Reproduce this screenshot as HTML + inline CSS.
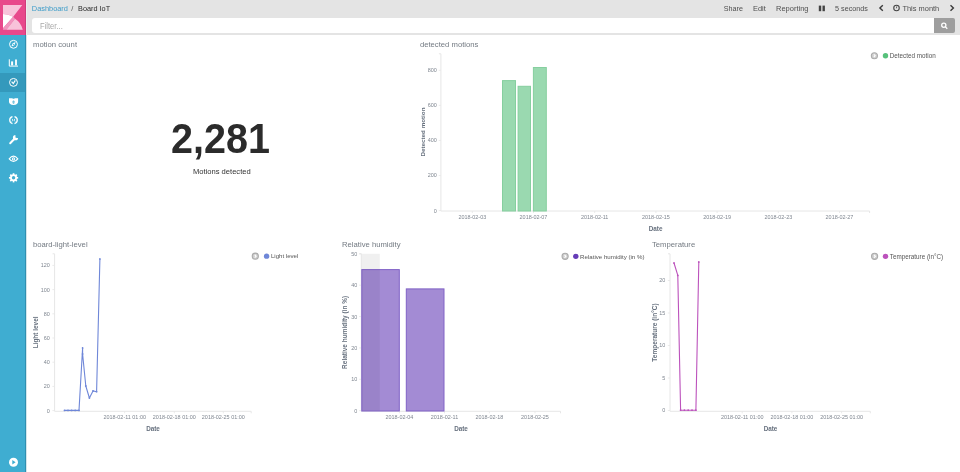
<!DOCTYPE html>
<html><head><meta charset="utf-8">
<style>
html,body{margin:0;padding:0;}
body{width:960px;height:472px;overflow:hidden;position:relative;background:#fff;font-family:"Liberation Sans",Arial,sans-serif;}
.abs{position:absolute;}
#nav{left:0;top:0;width:25px;height:472px;background:#3fadd1;}
#navedge{left:25px;top:0;width:1px;height:472px;background:#2f8fb0;}
#logo{left:0;top:0;width:25px;height:35px;background:#e8488b;border-right:1px solid #cf3d7b;}
#col26a{left:26px;top:0;width:1px;height:35px;background:#eeeeee;}
#col26b{left:26px;top:35px;width:1px;height:437px;background:#d3e6ec;}
#active{left:0;top:73px;width:25px;height:18.5px;background:#3499bc;}
#hdr{left:26px;top:0;width:934px;height:35px;background:#e4e4e4;}
.t{position:absolute;will-change:transform;white-space:nowrap;line-height:1;}
#filter{left:31.5px;top:18px;width:902px;height:15px;background:#fff;border-radius:3px 0 0 3px;}
#sbtn{left:933.5px;top:18px;width:21px;height:15px;background:#9e9e9e;border-radius:0 2px 2px 0;}
svg text{font-family:"Liberation Sans",Arial,sans-serif;}
</style></head><body>
<div id="nav" class="abs"></div>
<div id="active" class="abs"></div>
<div id="navedge" class="abs"></div>
<div id="logo" class="abs"></div>
<div id="hdr" class="abs"></div>
<div id="col26a" class="abs"></div>
<div id="col26b" class="abs"></div>
<div id="filter" class="abs"></div>
<div id="sbtn" class="abs"></div>

<svg class="abs" style="left:0;top:0;will-change:transform" width="960" height="472" viewBox="0 0 960 472">
  <!-- logo -->
  <path d="M3,5 H22.3 L13.2,16.7 Q8.6,14 3,14 Z" fill="#f8c3da"/>
  <path d="M3,14 Q8.6,14 13.2,16.7 L3,28.2 Z" fill="#ffffff"/>
  <path d="M13.2,16.7 L15,18.7 L6.4,29.8 L3,29.8 L3,28.2 Z" fill="#f194be"/>
  <path d="M15,18.7 Q21.2,22.6 22.8,29.8 H6.4 Z" fill="#f8c3da"/>
  <!-- header texts -->
  <g font-size="7.4">
    <text transform="translate(31.8,10.9) scale(1,1.08)" fill="#3f9dc9">Dashboard</text>
    <text transform="translate(71.2,10.9) scale(1,1.08)" fill="#555">/</text>
    <text transform="translate(78.1,10.9) scale(1,1.08)" font-size="7.3" fill="#2a2a2a">Board IoT</text>
    <text transform="translate(723.7,11.1) scale(1,1.08)" font-size="7.2" fill="#4f4f4f">Share</text>
    <text transform="translate(753,11.1) scale(1,1.08)" fill="#4f4f4f">Edit</text>
    <text transform="translate(776,11.1) scale(1,1.08)" font-size="7.5" fill="#4f4f4f">Reporting</text>
    <text transform="translate(835.1,11.1) scale(1,1.08)" font-size="7.2" fill="#4f4f4f">5 seconds</text>
    <text transform="translate(902.4,11.1) scale(1,1.08)" font-size="7.45" fill="#4f4f4f">This month</text>
    <text transform="translate(40,28.8) scale(1,1.08)" font-size="7.6" fill="#a8a8a8">Filter...</text>
  </g>
  <!-- header icons -->
  <rect x="818.8" y="5.6" width="2.4" height="5.6" fill="#444"/>
  <rect x="822.5" y="5.6" width="2.4" height="5.6" fill="#444"/>
  <polyline points="882.8,5.2 879.9,8 882.8,10.8" fill="none" stroke="#3a3a3a" stroke-width="1.4"/>
  <polyline points="950.5,5.2 953.4,8 950.5,10.8" fill="none" stroke="#3a3a3a" stroke-width="1.4"/>
  <circle cx="896.5" cy="7.95" r="2.75" fill="none" stroke="#444" stroke-width="1.1"/>
  <line x1="896.4" y1="8.3" x2="896.8" y2="6.3" stroke="#444" stroke-width="0.8"/>
  <!-- search icon -->
  <circle cx="943.8" cy="25.3" r="2.1" fill="none" stroke="#fff" stroke-width="1.3"/>
  <line x1="945.4" y1="26.9" x2="947.3" y2="28.8" stroke="#fff" stroke-width="1.3"/>

  <!-- nav icons -->
  <g fill="none" stroke="#fff" stroke-width="1">
    <circle cx="13.5" cy="44.3" r="3.95"/>
    <circle cx="13.5" cy="82.4" r="3.95"/>
    <path d="M9.3,59.3 V66.1 H18"/>
    <path d="M11.6,81.6 L13.3,83.6 L15.3,80.4" stroke-width="1.2"/>
    <path d="M12.5,116.6 A3.6,3.6 0 0 0 12.5,123.6" stroke-width="1.3"/>
    <path d="M14.5,116.6 A3.6,3.6 0 0 1 14.5,123.6" stroke-width="1.3"/>
    <path d="M11.9,118.7 L12.9,120.1 L11.9,121.5 M15.1,118.7 L14.1,120.1 L15.1,121.5" stroke-width="0.8"/>
    <path d="M9.2,158.8 Q13.5,153.4 17.8,158.8 Q13.5,164.2 9.2,158.8 Z" stroke-width="1.1"/>
  </g>
  <g fill="#fff">
    <path d="M11.4,46.6 L12.7,43.3 L15.6,42 L14.3,45.3 Z"/>
    <rect x="11.1" y="61.4" width="2" height="4"/>
    <rect x="15.1" y="59.5" width="1.8" height="5.9"/>
    <path d="M9,98.2 L12.3,98.2 L12.9,98.8 L14.2,98.8 L14.8,98.2 L18.1,98.2 L18.1,101.8 Q18.1,104.9 13.55,104.9 Q9,104.9 9,101.8 Z"/>
    <circle cx="15.5" cy="137.7" r="2.6"/>
    <circle cx="13.5" cy="158.9" r="1.6"/>
    <circle cx="13.55" cy="177.8" r="3.5"/>
    <circle cx="13.5" cy="462.2" r="4.5"/>
  </g>
  <g stroke="#fff" stroke-width="1.7">
    <line x1="13.55" y1="173.2" x2="13.55" y2="182.4"/>
    <line x1="8.95" y1="177.8" x2="18.15" y2="177.8"/>
    <line x1="10.3" y1="174.55" x2="16.8" y2="181.05"/>
    <line x1="16.8" y1="174.55" x2="10.3" y2="181.05"/>
  </g>
  <line x1="15" y1="138.3" x2="10.2" y2="143.3" stroke="#fff" stroke-width="2" stroke-linecap="round"/>
  <g fill="#3fadd1">
    <path d="M15.6,137.7 L15.3,134.2 L19.3,134.2 L19.1,138.2 Z"/>
    <circle cx="13.5" cy="44.3" r="0.6"/>
    <ellipse cx="13.55" cy="102.1" rx="1.15" ry="1.6"/>
    <circle cx="13.5" cy="158.9" r="0.6"/>
    <circle cx="13.55" cy="177.8" r="1.7"/>
    <path d="M12.3,460 L15.6,462.2 L12.3,464.4 Z"/>
  </g>
  <rect x="12.2" y="101.75" width="2.7" height="0.6" fill="#fff"/>
  <!-- panel titles -->
  <g font-size="7.7" fill="#737a82">
    <text x="33" y="46.6">motion count</text>
    <text x="419.9" y="46.5">detected motions</text>
    <text x="32.9" y="246.8">board-light-level</text>
    <text x="342" y="246.8">Relative humidity</text>
    <text x="652" y="246.8">Temperature</text>
  </g>

  <!-- metric -->
  <text transform="translate(220.5,153) scale(1,1.07)" font-size="39.5" font-weight="bold" fill="#2b2b2b" text-anchor="middle">2,281</text>
  <text x="221.8" y="174" font-size="7.6" fill="#333" text-anchor="middle">Motions detected</text>
<!-- CHARTS -->
<line x1="440.9" y1="53.8" x2="440.9" y2="211" stroke="#e6e6e6" stroke-width="1"/><line x1="438.9" y1="53.8" x2="440.9" y2="53.8" stroke="#e6e6e6" stroke-width="1"/><line x1="438.7" y1="210.6" x2="440.9" y2="210.6" stroke="#e6e6e6" stroke-width="0.8"/><text x="436.9" y="212.54999999999998" font-size="5.45" fill="#7f8690" text-anchor="end">0</text><line x1="438.7" y1="175.52" x2="440.9" y2="175.52" stroke="#e6e6e6" stroke-width="0.8"/><text x="436.9" y="177.47" font-size="5.45" fill="#7f8690" text-anchor="end">200</text><line x1="438.7" y1="140.45" x2="440.9" y2="140.45" stroke="#e6e6e6" stroke-width="0.8"/><text x="436.9" y="142.39999999999998" font-size="5.45" fill="#7f8690" text-anchor="end">400</text><line x1="438.7" y1="105.37" x2="440.9" y2="105.37" stroke="#e6e6e6" stroke-width="0.8"/><text x="436.9" y="107.32000000000001" font-size="5.45" fill="#7f8690" text-anchor="end">600</text><line x1="438.7" y1="70.3" x2="440.9" y2="70.3" stroke="#e6e6e6" stroke-width="0.8"/><text x="436.9" y="72.25" font-size="5.45" fill="#7f8690" text-anchor="end">800</text>
<line x1="440.9" y1="211" x2="869.6" y2="211" stroke="#e6e6e6" stroke-width="1"/><line x1="869.6" y1="211" x2="869.6" y2="213" stroke="#e6e6e6" stroke-width="1"/><line x1="472.3" y1="211" x2="472.3" y2="213" stroke="#e6e6e6" stroke-width="0.8"/><text x="472.3" y="219.25" font-size="5.45" fill="#7f8690" text-anchor="middle">2018-02-03</text><line x1="533.5" y1="211" x2="533.5" y2="213" stroke="#e6e6e6" stroke-width="0.8"/><text x="533.5" y="219.25" font-size="5.45" fill="#7f8690" text-anchor="middle">2018-02-07</text><line x1="594.7" y1="211" x2="594.7" y2="213" stroke="#e6e6e6" stroke-width="0.8"/><text x="594.7" y="219.25" font-size="5.45" fill="#7f8690" text-anchor="middle">2018-02-11</text><line x1="655.9" y1="211" x2="655.9" y2="213" stroke="#e6e6e6" stroke-width="0.8"/><text x="655.9" y="219.25" font-size="5.45" fill="#7f8690" text-anchor="middle">2018-02-15</text><line x1="717.1" y1="211" x2="717.1" y2="213" stroke="#e6e6e6" stroke-width="0.8"/><text x="717.1" y="219.25" font-size="5.45" fill="#7f8690" text-anchor="middle">2018-02-19</text><line x1="778.3" y1="211" x2="778.3" y2="213" stroke="#e6e6e6" stroke-width="0.8"/><text x="778.3" y="219.25" font-size="5.45" fill="#7f8690" text-anchor="middle">2018-02-23</text><line x1="839.5" y1="211" x2="839.5" y2="213" stroke="#e6e6e6" stroke-width="0.8"/><text x="839.5" y="219.25" font-size="5.45" fill="#7f8690" text-anchor="middle">2018-02-27</text>
<rect x="502.5" y="80.6" width="13" height="130.4" fill="#9ad9b0" stroke="#86cf9f" stroke-width="1"/>
<rect x="518.1" y="86.3" width="12.399999999999977" height="124.7" fill="#9ad9b0" stroke="#86cf9f" stroke-width="1"/>
<rect x="533.4" y="67.5" width="12.899999999999977" height="143.5" fill="#9ad9b0" stroke="#86cf9f" stroke-width="1"/>
<text x="655.6" y="230.8" font-size="6.35" font-weight="bold" fill="#66707e" text-anchor="middle">Date</text>
<text transform="translate(425.0,132) rotate(-90)" x="0" y="0" font-size="6.26" font-weight="bold" fill="#66707e" text-anchor="middle">Detected motion</text>
<circle cx="874.4" cy="55.75" r="3.05" fill="#cfcfcf" stroke="#ababab" stroke-width="1.1"/><polyline points="873.8,54.35 875.1999999999999,55.75 873.8,57.15" fill="none" stroke="#fff" stroke-width="1.1"/><circle cx="885.5" cy="55.75" r="2.7" fill="#57c17b"/><text x="889.8" y="58.05" font-size="6.3" fill="#555">Detected motion</text>
<line x1="54.6" y1="253.8" x2="54.6" y2="411.3" stroke="#e6e6e6" stroke-width="1"/><line x1="52.6" y1="253.8" x2="54.6" y2="253.8" stroke="#e6e6e6" stroke-width="1"/><line x1="52.4" y1="410.6" x2="54.6" y2="410.6" stroke="#e6e6e6" stroke-width="0.8"/><text x="49.800000000000004" y="412.55" font-size="5.45" fill="#7f8690" text-anchor="end">0</text><line x1="52.4" y1="386.4" x2="54.6" y2="386.4" stroke="#e6e6e6" stroke-width="0.8"/><text x="49.800000000000004" y="388.34999999999997" font-size="5.45" fill="#7f8690" text-anchor="end">20</text><line x1="52.4" y1="362.2" x2="54.6" y2="362.2" stroke="#e6e6e6" stroke-width="0.8"/><text x="49.800000000000004" y="364.15" font-size="5.45" fill="#7f8690" text-anchor="end">40</text><line x1="52.4" y1="338.0" x2="54.6" y2="338.0" stroke="#e6e6e6" stroke-width="0.8"/><text x="49.800000000000004" y="339.95" font-size="5.45" fill="#7f8690" text-anchor="end">60</text><line x1="52.4" y1="313.8" x2="54.6" y2="313.8" stroke="#e6e6e6" stroke-width="0.8"/><text x="49.800000000000004" y="315.75" font-size="5.45" fill="#7f8690" text-anchor="end">80</text><line x1="52.4" y1="289.6" x2="54.6" y2="289.6" stroke="#e6e6e6" stroke-width="0.8"/><text x="49.800000000000004" y="291.55" font-size="5.45" fill="#7f8690" text-anchor="end">100</text><line x1="52.4" y1="265.4" x2="54.6" y2="265.4" stroke="#e6e6e6" stroke-width="0.8"/><text x="49.800000000000004" y="267.34999999999997" font-size="5.45" fill="#7f8690" text-anchor="end">120</text>
<line x1="54.6" y1="411.3" x2="251.2" y2="411.3" stroke="#e6e6e6" stroke-width="1"/><line x1="251.2" y1="411.3" x2="251.2" y2="413.3" stroke="#e6e6e6" stroke-width="1"/><line x1="124.7" y1="411.3" x2="124.7" y2="413.3" stroke="#e6e6e6" stroke-width="0.8"/><text x="124.7" y="419.15" font-size="5.45" fill="#7f8690" text-anchor="middle">2018-02-11 01:00</text><line x1="174.3" y1="411.3" x2="174.3" y2="413.3" stroke="#e6e6e6" stroke-width="0.8"/><text x="174.3" y="419.15" font-size="5.45" fill="#7f8690" text-anchor="middle">2018-02-18 01:00</text><line x1="223.3" y1="411.3" x2="223.3" y2="413.3" stroke="#e6e6e6" stroke-width="0.8"/><text x="223.3" y="419.15" font-size="5.45" fill="#7f8690" text-anchor="middle">2018-02-25 01:00</text>
<polyline points="64.5,410.4 68,410.4 71.6,410.4 75.2,410.4 79,410.4 82.6,348 82.6,354 85.8,386 89.4,398 93,390.9 96.6,391.7 99.9,258.9" fill="none" stroke="#6f87d8" stroke-width="1.1" stroke-linejoin="round"/>
<circle cx="64.5" cy="410.4" r="0.9" fill="#6f87d8"/>
<circle cx="68" cy="410.4" r="0.9" fill="#6f87d8"/>
<circle cx="71.6" cy="410.4" r="0.9" fill="#6f87d8"/>
<circle cx="75.2" cy="410.4" r="0.9" fill="#6f87d8"/>
<circle cx="79" cy="410.4" r="0.9" fill="#6f87d8"/>
<circle cx="82.6" cy="348" r="0.9" fill="#6f87d8"/>
<circle cx="82.6" cy="354" r="0.9" fill="#6f87d8"/>
<circle cx="85.8" cy="386" r="0.9" fill="#6f87d8"/>
<circle cx="89.4" cy="398" r="0.9" fill="#6f87d8"/>
<circle cx="93" cy="390.9" r="0.9" fill="#6f87d8"/>
<circle cx="96.6" cy="391.7" r="0.9" fill="#6f87d8"/>
<circle cx="99.9" cy="258.9" r="0.9" fill="#6f87d8"/>
<text x="153" y="431.0" font-size="6.35" font-weight="bold" fill="#66707e" text-anchor="middle">Date</text>
<text transform="translate(37.8,332.4) rotate(-90)" x="0" y="0" font-size="6.43" font-weight="bold" fill="#66707e" text-anchor="middle">Light level</text>
<circle cx="255.3" cy="256.15" r="3.05" fill="#cfcfcf" stroke="#ababab" stroke-width="1.1"/><polyline points="254.70000000000002,254.74999999999997 256.1,256.15 254.70000000000002,257.54999999999995" fill="none" stroke="#fff" stroke-width="1.1"/><circle cx="266.6" cy="256.15" r="2.7" fill="#6f87d8"/><text x="270.90000000000003" y="258.45" font-size="6.1" fill="#555">Light level</text>
<rect x="361.3" y="253.8" width="18.5" height="157" fill="#f0f0f0"/>
<line x1="361.3" y1="253.8" x2="361.3" y2="411.3" stroke="#e6e6e6" stroke-width="1"/><line x1="359.3" y1="253.8" x2="361.3" y2="253.8" stroke="#e6e6e6" stroke-width="1"/><line x1="359.1" y1="410.7" x2="361.3" y2="410.7" stroke="#e6e6e6" stroke-width="0.8"/><text x="357.3" y="412.65" font-size="5.45" fill="#7f8690" text-anchor="end">0</text><line x1="359.1" y1="379.32" x2="361.3" y2="379.32" stroke="#e6e6e6" stroke-width="0.8"/><text x="357.3" y="381.27" font-size="5.45" fill="#7f8690" text-anchor="end">10</text><line x1="359.1" y1="347.94" x2="361.3" y2="347.94" stroke="#e6e6e6" stroke-width="0.8"/><text x="357.3" y="349.89" font-size="5.45" fill="#7f8690" text-anchor="end">20</text><line x1="359.1" y1="316.56" x2="361.3" y2="316.56" stroke="#e6e6e6" stroke-width="0.8"/><text x="357.3" y="318.51" font-size="5.45" fill="#7f8690" text-anchor="end">30</text><line x1="359.1" y1="285.18" x2="361.3" y2="285.18" stroke="#e6e6e6" stroke-width="0.8"/><text x="357.3" y="287.13" font-size="5.45" fill="#7f8690" text-anchor="end">40</text><line x1="359.1" y1="253.8" x2="361.3" y2="253.8" stroke="#e6e6e6" stroke-width="0.8"/><text x="357.3" y="255.75" font-size="5.45" fill="#7f8690" text-anchor="end">50</text>
<line x1="361.3" y1="411.3" x2="560.5" y2="411.3" stroke="#e6e6e6" stroke-width="1"/><line x1="560.5" y1="411.3" x2="560.5" y2="413.3" stroke="#e6e6e6" stroke-width="1"/><line x1="399.4" y1="411.3" x2="399.4" y2="413.3" stroke="#e6e6e6" stroke-width="0.8"/><text x="399.4" y="419.34999999999997" font-size="5.45" fill="#7f8690" text-anchor="middle">2018-02-04</text><line x1="444.5" y1="411.3" x2="444.5" y2="413.3" stroke="#e6e6e6" stroke-width="0.8"/><text x="444.5" y="419.34999999999997" font-size="5.45" fill="#7f8690" text-anchor="middle">2018-02-11</text><line x1="489.4" y1="411.3" x2="489.4" y2="413.3" stroke="#e6e6e6" stroke-width="0.8"/><text x="489.4" y="419.34999999999997" font-size="5.45" fill="#7f8690" text-anchor="middle">2018-02-18</text><line x1="535" y1="411.3" x2="535" y2="413.3" stroke="#e6e6e6" stroke-width="0.8"/><text x="535" y="419.34999999999997" font-size="5.45" fill="#7f8690" text-anchor="middle">2018-02-25</text>
<rect x="361.8" y="269.6" width="37.5" height="141.39999999999998" fill="#a38bd4" stroke="#8062c6" stroke-width="1"/>
<rect x="406.3" y="288.9" width="37.69999999999999" height="122.10000000000002" fill="#a38bd4" stroke="#8062c6" stroke-width="1"/>
<rect x="361.8" y="269.6" width="18" height="141" fill="#000" opacity="0.05"/>
<text x="461" y="431.0" font-size="6.35" font-weight="bold" fill="#66707e" text-anchor="middle">Date</text>
<text transform="translate(347.3,332.4) rotate(-90)" x="0" y="0" font-size="6.47" font-weight="bold" fill="#66707e" text-anchor="middle">Relative humidity (in %)</text>
<circle cx="565.1" cy="256.35" r="3.05" fill="#cfcfcf" stroke="#ababab" stroke-width="1.1"/><polyline points="564.5,254.95000000000002 565.9,256.35 564.5,257.75" fill="none" stroke="#fff" stroke-width="1.1"/><circle cx="575.8" cy="256.35" r="2.7" fill="#663db8"/><text x="580.0999999999999" y="258.65000000000003" font-size="6.13" fill="#555">Relative humidity (in %)</text>
<line x1="670" y1="253.8" x2="670" y2="411.3" stroke="#e6e6e6" stroke-width="1"/><line x1="668" y1="253.8" x2="670" y2="253.8" stroke="#e6e6e6" stroke-width="1"/><line x1="667.8" y1="410.5" x2="670" y2="410.5" stroke="#e6e6e6" stroke-width="0.8"/><text x="665.4" y="412.45" font-size="5.45" fill="#7f8690" text-anchor="end">0</text><line x1="667.8" y1="378.0" x2="670" y2="378.0" stroke="#e6e6e6" stroke-width="0.8"/><text x="665.4" y="379.95" font-size="5.45" fill="#7f8690" text-anchor="end">5</text><line x1="667.8" y1="345.5" x2="670" y2="345.5" stroke="#e6e6e6" stroke-width="0.8"/><text x="665.4" y="347.45" font-size="5.45" fill="#7f8690" text-anchor="end">10</text><line x1="667.8" y1="313.0" x2="670" y2="313.0" stroke="#e6e6e6" stroke-width="0.8"/><text x="665.4" y="314.95" font-size="5.45" fill="#7f8690" text-anchor="end">15</text><line x1="667.8" y1="280.5" x2="670" y2="280.5" stroke="#e6e6e6" stroke-width="0.8"/><text x="665.4" y="282.45" font-size="5.45" fill="#7f8690" text-anchor="end">20</text>
<line x1="670" y1="411.3" x2="870.3" y2="411.3" stroke="#e6e6e6" stroke-width="1"/><line x1="870.3" y1="411.3" x2="870.3" y2="413.3" stroke="#e6e6e6" stroke-width="1"/><line x1="742.2" y1="411.3" x2="742.2" y2="413.3" stroke="#e6e6e6" stroke-width="0.8"/><text x="742.2" y="419.34999999999997" font-size="5.45" fill="#7f8690" text-anchor="middle">2018-02-11 01:00</text><line x1="791.9" y1="411.3" x2="791.9" y2="413.3" stroke="#e6e6e6" stroke-width="0.8"/><text x="791.9" y="419.34999999999997" font-size="5.45" fill="#7f8690" text-anchor="middle">2018-02-18 01:00</text><line x1="841.6" y1="411.3" x2="841.6" y2="413.3" stroke="#e6e6e6" stroke-width="0.8"/><text x="841.6" y="419.34999999999997" font-size="5.45" fill="#7f8690" text-anchor="middle">2018-02-25 01:00</text>
<polyline points="674,263 677.8,275.4 680.6,410.2 684.4,410.2 688.2,410.2 692,410.2 695.9,410.2 698.8,262" fill="none" stroke="#bc52bc" stroke-width="1.1" stroke-linejoin="round"/>
<circle cx="674" cy="263" r="0.9" fill="#bc52bc"/>
<circle cx="677.8" cy="275.4" r="0.9" fill="#bc52bc"/>
<circle cx="680.6" cy="410.2" r="0.9" fill="#bc52bc"/>
<circle cx="684.4" cy="410.2" r="0.9" fill="#bc52bc"/>
<circle cx="688.2" cy="410.2" r="0.9" fill="#bc52bc"/>
<circle cx="692" cy="410.2" r="0.9" fill="#bc52bc"/>
<circle cx="695.9" cy="410.2" r="0.9" fill="#bc52bc"/>
<circle cx="698.8" cy="262" r="0.9" fill="#bc52bc"/>
<text x="770.5" y="430.8" font-size="6.35" font-weight="bold" fill="#66707e" text-anchor="middle">Date</text>
<text transform="translate(657.0999999999999,332.5) rotate(-90)" x="0" y="0" font-size="6.52" font-weight="bold" fill="#66707e" text-anchor="middle">Temperature (in°C)</text>
<circle cx="874.6" cy="256.35" r="3.05" fill="#cfcfcf" stroke="#ababab" stroke-width="1.1"/><polyline points="874.0,254.95000000000002 875.4,256.35 874.0,257.75" fill="none" stroke="#fff" stroke-width="1.1"/><circle cx="885.5" cy="256.35" r="2.7" fill="#bc52bc"/><text x="889.8" y="258.65000000000003" font-size="6.31" fill="#555">Temperature (in°C)</text>
<!-- /CHARTS -->
</svg>
</body></html>
